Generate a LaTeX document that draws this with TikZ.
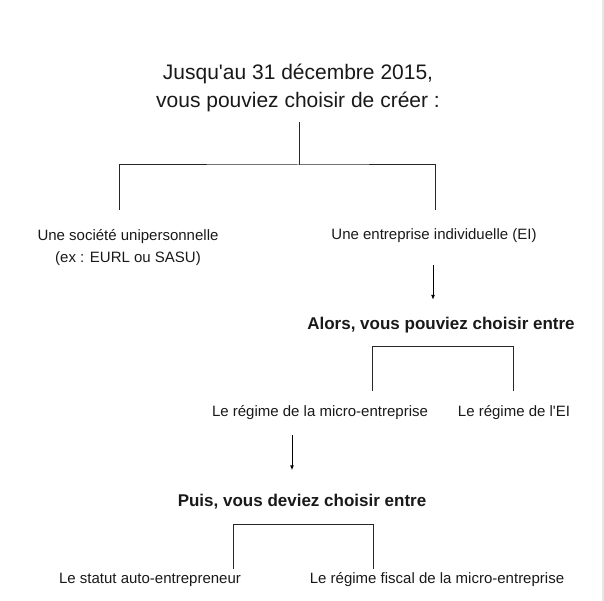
\documentclass[tikz,border=0pt]{standalone}
\usepackage{fontspec}
\setmainfont{Liberation Sans}
\usetikzlibrary{arrows.meta}
\tikzset{
  big/.style={font=\fontsize{21}{28}\selectfont, align=center, inner sep=0pt, text=black!90},
  small/.style={font=\fontsize{15}{22}\selectfont, align=center, inner sep=0pt, text=black!90},
  head/.style={font=\bfseries\fontsize{17}{22}\selectfont, align=center, inner sep=0pt, text=black!90},
  link/.style={draw=black!85, line width=1pt},
  arr/.style={draw=black, line width=1pt, -{Latex[length=5pt,width=4pt]}}
}
\begin{document}
\begin{tikzpicture}[x=1pt,y=-1pt]
\useasboundingbox (0,0) rectangle (604,601);
\fill[gray!18] (602,0) rectangle (604,601);

\node[big] (title) at (298,88) {Jusqu\textquotesingle au 31 décembre 2015,\\vous pouviez choisir de créer :};
\node[small] (soc) at (128,247.5) {Une société unipersonnelle\\(ex : EURL ou SASU)};
\node[small] (ei) at (434,236) {Une entreprise individuelle (EI)};
\node[head] (alors) at (441,325) {Alors, vous pouviez choisir entre};
\node[small] (micro) at (320,413) {Le régime de la micro-entreprise};
\node[small] (regei) at (514,413) {Le régime de l\textquotesingle EI};
\node[head] (puis) at (302,502) {Puis, vous deviez choisir entre};
\node[small] (statut) at (150,580) {Le statut auto-entrepreneur};
\node[small] (fiscal) at (437,580) {Le régime fiscal de la micro-entreprise};

% bracket 1
\coordinate (h1) at (299,165);
\coordinate (l1) at (119,210);
\coordinate (r1) at (435,210);
\draw[link] (title.south -| h1) ++(0,10) -- (h1);
\draw[link] (l1) |- (h1) -| (r1);

% arrow 1
\draw[arr, shorten <=22pt, shorten >=17pt] ([xshift=-1pt]ei.south) -- ([xshift=-1pt]ei.south |- alors.north);

% bracket 2
\coordinate (l2) at (372,391);
\coordinate (r2) at (513,391);
\draw[link] (l2) -- ++(0,-45) -| (r2);

% arrow 2
\draw[arr, shorten <=15pt, shorten >=24pt] ([xshift=-28pt]micro.south) -- ([xshift=-28pt]micro.south |- puis.north);

% bracket 3
\coordinate (l3) at (233,569);
\coordinate (r3) at (373,569);
\draw[link] (l3) -- ++(0,-45) -| (r3);
\end{tikzpicture}
\end{document}
